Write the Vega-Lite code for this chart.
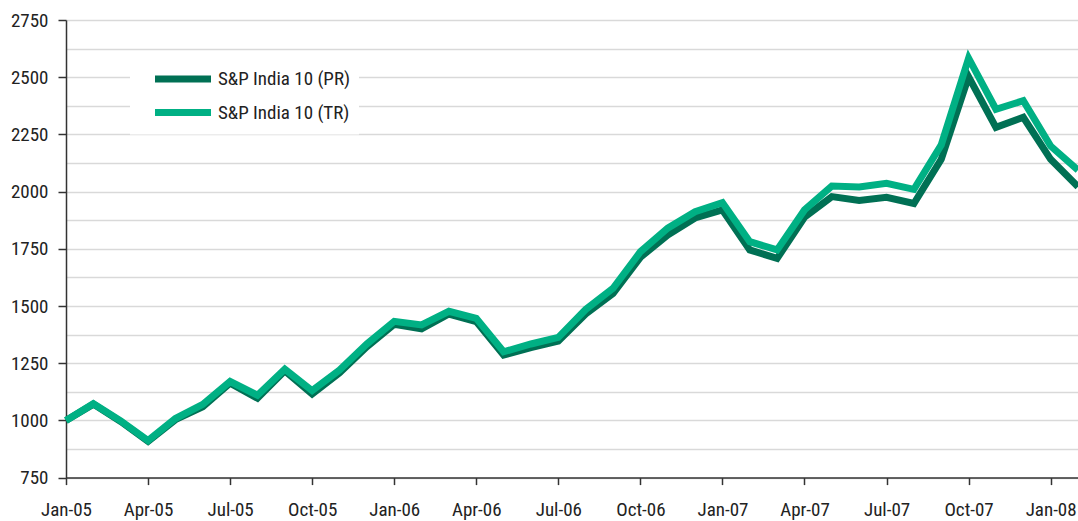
{
  "$schema": "https://vega.github.io/schema/vega-lite/v6.json",
  "width": 1012,
  "height": 457.6,
  "autosize": "none",
  "padding": {"left": 66, "top": 20, "right": 0, "bottom": 43.4},
  "config": {
    "view": {"stroke": null},
    "font": "Roboto Condensed, Liberation Sans Narrow, DejaVu Sans Condensed, sans-serif"
  },
  "data": {
    "values": [
      {"m": "Jan-05", "PR": 1000, "TR": 1000},
      {"m": "Feb-05", "PR": 1071, "TR": 1073},
      {"m": "Mar-05", "PR": 995, "TR": 998},
      {"m": "Apr-05", "PR": 908, "TR": 912},
      {"m": "May-05", "PR": 1003, "TR": 1008},
      {"m": "Jun-05", "PR": 1060, "TR": 1070},
      {"m": "Jul-05", "PR": 1163, "TR": 1170},
      {"m": "Aug-05", "PR": 1097, "TR": 1110},
      {"m": "Sep-05", "PR": 1217, "TR": 1224},
      {"m": "Oct-05", "PR": 1115, "TR": 1130},
      {"m": "Nov-05", "PR": 1208, "TR": 1220},
      {"m": "Dec-05", "PR": 1322, "TR": 1334},
      {"m": "Jan-06", "PR": 1420, "TR": 1433},
      {"m": "Feb-06", "PR": 1400, "TR": 1417},
      {"m": "Mar-06", "PR": 1465, "TR": 1477},
      {"m": "Apr-06", "PR": 1432, "TR": 1446},
      {"m": "May-06", "PR": 1286, "TR": 1300},
      {"m": "Jun-06", "PR": 1318, "TR": 1334},
      {"m": "Jul-06", "PR": 1347, "TR": 1363},
      {"m": "Aug-06", "PR": 1465, "TR": 1485},
      {"m": "Sep-06", "PR": 1555, "TR": 1577},
      {"m": "Oct-06", "PR": 1713, "TR": 1737},
      {"m": "Nov-06", "PR": 1810, "TR": 1840},
      {"m": "Dec-06", "PR": 1885, "TR": 1912},
      {"m": "Jan-07", "PR": 1920, "TR": 1952},
      {"m": "Feb-07", "PR": 1745, "TR": 1781},
      {"m": "Mar-07", "PR": 1708, "TR": 1745},
      {"m": "Apr-07", "PR": 1888, "TR": 1920},
      {"m": "May-07", "PR": 1978, "TR": 2024},
      {"m": "Jun-07", "PR": 1961, "TR": 2020},
      {"m": "Jul-07", "PR": 1975, "TR": 2036},
      {"m": "Aug-07", "PR": 1948, "TR": 2010},
      {"m": "Sep-07", "PR": 2141, "TR": 2204},
      {"m": "Oct-07", "PR": 2502, "TR": 2583},
      {"m": "Nov-07", "PR": 2281, "TR": 2360},
      {"m": "Dec-07", "PR": 2325, "TR": 2397},
      {"m": "Jan-08", "PR": 2141, "TR": 2199},
      {"m": "Feb-08", "PR": 2021, "TR": 2094}
    ]
  },
  "transform": [
    {"fold": ["PR", "TR"], "as": ["series", "value"]}
  ],
  "mark": {"type": "line", "strokeWidth": 7, "clip": false},
  "encoding": {
    "x": {
      "field": "m",
      "type": "ordinal",
      "sort": null,
      "scale": {"type": "point", "padding": 0},
      "axis": {
        "title": null,
        "values": ["Jan-05", "Apr-05", "Jul-05", "Oct-05", "Jan-06", "Apr-06", "Jul-06", "Oct-06", "Jan-07", "Apr-07", "Jul-07", "Oct-07", "Jan-08"],
        "labelAngle": 0,
        "labelFontSize": 19,
        "labelColor": "#222222",
        "labelPadding": 16,
        "tickSize": 7,
        "tickWidth": 1.5,
        "tickColor": "#333333",
        "domainColor": "#333333",
        "domainWidth": 1.5,
        "grid": false,
        "labelOverlap": false
      }
    },
    "y": {
      "field": "value",
      "type": "quantitative",
      "scale": {"domain": [750, 2750], "nice": false, "zero": false},
      "axis": {
        "title": null,
        "values": [750, 875, 1000, 1125, 1250, 1375, 1500, 1625, 1750, 1875, 2000, 2125, 2250, 2375, 2500, 2625, 2750],
        "labelExpr": "datum.value % 250 == 0 ? datum.label : ''",
        "format": "d",
        "labelFontSize": 19,
        "labelColor": "#222222",
        "labelPadding": 10,
        "labelOverlap": false,
        "tickSize": 8,
        "tickWidth": 1.5,
        "tickColor": "#333333",
        "tickOpacity": {"condition": {"test": "datum.value % 250 != 0", "value": 0}, "value": 1},
        "domainColor": "#333333",
        "domainWidth": 1.5,
        "gridColor": "#d9d9d9",
        "gridWidth": 1.5
      }
    },
    "color": {
      "field": "series",
      "type": "nominal",
      "scale": {"domain": ["PR", "TR"], "range": ["#007054", "#00B084"]},
      "legend": {
        "title": null,
        "orient": "none",
        "legendX": 64,
        "legendY": 33.5,
        "fillColor": "white",
        "padding": 8,
        "symbolType": "M-2,0H2",
        "symbolSize": 784,
        "symbolStrokeWidth": 7,
        "symbolOffset": 27.5,
        "labelFontSize": 19,
        "labelColor": "#222222",
        "labelOffset": 17.5,
        "rowPadding": 1.5,
        "labelExpr": "'S&P India 10 (' + datum.label + ')'"
      }
    }
  }
}
